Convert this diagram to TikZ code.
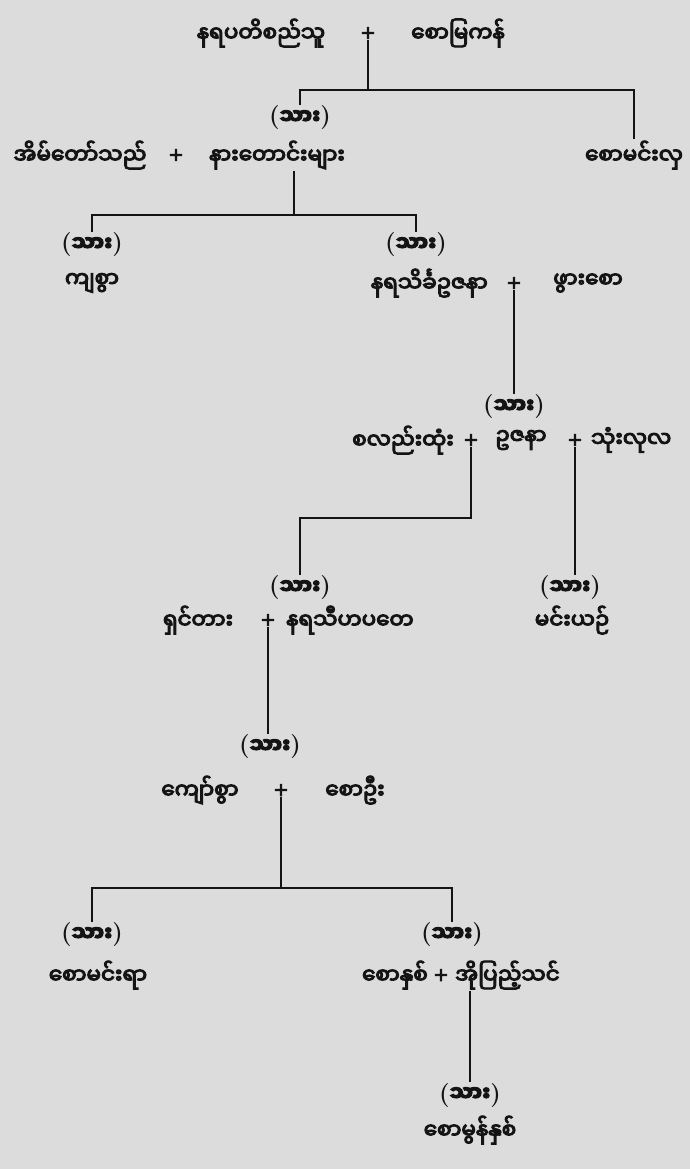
\documentclass[tikz,border=0pt]{standalone}
\usepackage{fontspec}
\newfontfamily\mmfont[Script=Myanmar,FakeBold=5]{Noto Sans Myanmar UI}
\newfontfamily\masfont[FakeBold=3]{DejaVu Sans}
\usetikzlibrary{positioning,calc}
\definecolor{cfondo}{HTML}{DCDCDC}
\definecolor{ctinta}{HTML}{141414}
\tikzset{
  nombre/.style={font=\mmfont\fontsize{21.5}{25}\selectfont,text=ctinta,inner sep=2pt},
  hijo/.style={font=\fontsize{24}{28}\selectfont\bfseries,text=ctinta,inner sep=1pt},
  mas/.style={font=\masfont\fontsize{19}{23}\selectfont,text=ctinta,inner sep=1pt},
  linea/.style={draw=ctinta,line width=2.6pt},
}
\newcommand{\sar}{({\mmfont\fontsize{21}{24}\selectfont သား})}
\begin{document}
\begin{tikzpicture}[x=1pt,y=-1pt]

\fill[cfondo] (0,0) rectangle (690,1169);
\useasboundingbox (0,0) rectangle (690,1169);

\node[nombre] (r1a) at (261,33) {နရပတိစည်သူ};
\node[mas]    (p1)  at (368,33) {+};
\node[nombre] (r1b) at (458,33) {စောမြကန်};

\node[hijo]   (h1)  at (300,118) {\sar};
\node[nombre] (r2a) at (80,155)  {အိမ်တော်သည်};
\node[mas]    (p2)  at (176,155) {+};
\node[nombre] (r2b) at (277,155) {နားတောင်းများ};
\node[nombre] (r2c) at (634,155) {စောမင်းလှ};

\node[hijo]   (h2a) at (92,245)  {\sar};
\node[hijo]   (h2b) at (416,245) {\sar};
\node[nombre] (r3a) at (92,283)  {ကျစွာ};
\node[nombre,anchor=east] (r3b) at (490,283) {နရသိင်္ခဥဇနာ};
\node[mas]    (p3)  at (514,283) {+};
\node[nombre] (r3c) at (588,283) {ဖွားစော};

\node[hijo]   (h3)  at (514,407) {\sar};
\node[nombre,anchor=east] (r4a) at (456,440) {စလည်းထုံး};
\node[mas]    (p4a) at (471,440) {+};
\node[nombre] (r4b) at (521,440) {ဥဇနာ};
\node[mas]    (p4b) at (575,440) {+};
\node[nombre,anchor=west] (r4c) at (589,440) {သုံးလုလ};

\node[hijo]   (h4a) at (300,588) {\sar};
\node[hijo]   (h4b) at (570,588) {\sar};
\node[nombre] (r5a) at (198,620) {ရှင်တား};
\node[mas]    (p5)  at (268,620) {+};
\node[nombre,anchor=west] (r5b) at (284,620) {နရသီဟပတေ};
\node[nombre] (r5c) at (572,620) {မင်းယဉ်};

\node[hijo]   (h5)  at (270,747) {\sar};
\node[nombre] (r6a) at (200,790) {ကျော်စွာ};
\node[mas]    (p6)  at (281,790) {+};
\node[nombre] (r6b) at (355,790) {စောဦး};

\node[hijo]   (h6a) at (92,935)  {\sar};
\node[hijo]   (h6b) at (452,935) {\sar};
\node[nombre] (r7a) at (98,975)  {စောမင်းရာ};
\node[nombre,anchor=east] (r7b) at (430,975) {စောနှစ်};
\node[mas]    (p7)  at (441,975) {+};
\node[nombre,anchor=west] (r7c) at (453,975) {အိုပြည့်သင်};

\node[hijo]   (h7)  at (470,1095) {\sar};
\node[nombre] (r8)  at (470,1130) {စောမွန်နှစ်};

\coordinate (j1) at (368,90);
\coordinate (j2) at (294,215);
\coordinate (j4) at (471,518);
\coordinate (j6) at (281,888);

\draw[linea] (p1) -- (j1);
\draw[linea] (h1.north) |- (j1) -| (r2c.north);
\draw[linea] (r2b.south -| j2) -- (j2);
\draw[linea] (h2a.north) |- (j2) -| (h2b.north);
\draw[linea] (p3) -- (h3);
\draw[linea] (p4a) -- (j4) -| (h4a.north);
\draw[linea] (p4b) -- (p4b |- h4b.north);
\draw[linea] (p5) -- (p5 |- h5.north);
\draw[linea] (p6) -- (j6);
\draw[linea] (h6a.north) |- (j6) -| (h6b.north);
\draw[linea] (r7c.south -| h7) -- (h7);

\end{tikzpicture}
\end{document}
